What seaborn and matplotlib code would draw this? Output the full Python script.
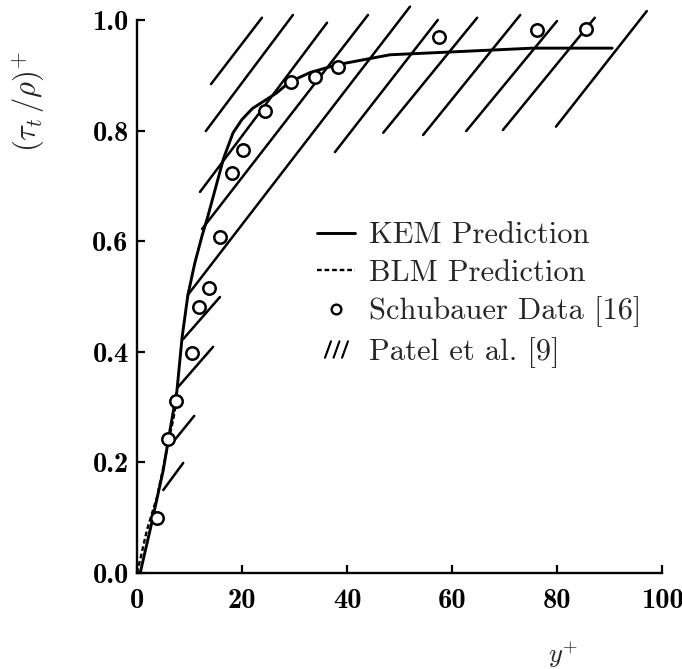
import numpy as np
import pandas as pd
import matplotlib
matplotlib.use("Agg")
import matplotlib.pyplot as plt
import seaborn as sns
from matplotlib.lines import Line2D

# KEM prediction of turbulent shear stress vs wall distance
kem_y_plus = [0.0, 0.6, 2.5, 5.0, 6.3, 7.6, 8.6, 9.7, 11.0, 12.4, 13.5, 14.5, 15.5,
              16.5, 18.3, 20.0, 22.0, 26.6, 29.1, 33.0, 38.1, 48.2, 59.6, 75.4, 90.5]
kem_tau = [0.0, 0.0, 0.078, 0.186, 0.259, 0.329, 0.427, 0.503, 0.56, 0.61, 0.645,
           0.68, 0.715, 0.75, 0.796, 0.82, 0.84, 0.868, 0.888, 0.905, 0.919, 0.937,
           0.942, 0.949, 0.949]

# BLM prediction (near-wall part)
blm_y_plus = [0.0, 0.6, 1.9, 3.8, 5.0, 5.9, 6.9, 7.5]
blm_tau = [0.0, 0.024, 0.078, 0.137, 0.19, 0.235, 0.277, 0.31]

# Schubauer measurements
schub_y_plus = [3.8, 5.9, 7.4, 10.5, 11.8, 13.7, 15.8, 18.1, 20.2, 24.4, 29.3,
                33.9, 38.3, 57.5, 76.2, 85.5]
schub_tau = [0.10, 0.242, 0.311, 0.398, 0.481, 0.515, 0.608, 0.723, 0.765, 0.836,
             0.888, 0.897, 0.915, 0.969, 0.982, 0.984]

# Patel et al. band, drawn as hatch strokes (start / end of each stroke)
patel_x0 = [14.1, 13.1, 12.0, 12.4, 9.7, 37.7, 46.9, 54.5, 62.7, 69.7, 79.8,
            5.0, 6.7, 7.8, 8.8]
patel_y0 = [0.884, 0.799, 0.689, 0.622, 0.503, 0.761, 0.796, 0.792, 0.799, 0.801,
            0.807, 0.150, 0.235, 0.336, 0.423]
patel_x1 = [23.8, 29.7, 36.2, 44.0, 52.0, 57.3, 64.8, 73.0, 80.0, 87.2, 97.1,
            8.8, 10.9, 14.5, 15.8]
patel_y1 = [1.004, 1.009, 0.995, 1.009, 1.024, 1.0, 1.004, 1.009, 0.998, 1.004,
            1.016, 0.199, 0.284, 0.409, 0.499]

x_ticks = [0, 20, 40, 60, 80, 100]
x_tick_labels = ["0", "20", "40", "60", "80", "100"]
y_ticks = [0.0, 0.2, 0.4, 0.6, 0.8, 1.0]
y_tick_labels = ["0.0", "0.2", "0.4", "0.6", "0.8", "1.0"]

sns.set_theme(style="ticks")
plt.rcParams["mathtext.fontset"] = "cm"
plt.rcParams["font.family"] = ["cmr10", "DejaVu Serif"]
plt.rcParams["axes.formatter.use_mathtext"] = True

fig = plt.figure(figsize=(6.82, 6.69), dpi=100)
ax = fig.add_axes([137 / 682, 1 - 573 / 669, 525 / 682, 568 / 669])
ax.set_facecolor("white")
fig.patch.set_facecolor("white")

hatch = pd.DataFrame({
    "seg": np.repeat(np.arange(len(patel_x0)), 2),
    "x": np.ravel(np.column_stack([patel_x0, patel_x1])),
    "y": np.ravel(np.column_stack([patel_y0, patel_y1])),
})
sns.lineplot(data=hatch, x="x", y="y", units="seg", estimator=None, sort=False,
             color="black", lw=1.8, ax=ax, legend=False, solid_capstyle="round")

sns.lineplot(x=kem_y_plus, y=kem_tau, sort=False, estimator=None, color="black",
             lw=2.1, ax=ax)
sns.lineplot(x=blm_y_plus, y=blm_tau, sort=False, estimator=None, color="black",
             lw=1.7, ax=ax, linestyle=(0, (2, 1.2)))
sns.scatterplot(x=schub_y_plus, y=schub_tau, marker="o", s=80, facecolor="white",
                edgecolor="black", linewidth=1.8, ax=ax, zorder=5)

ax.set_xlim(0, 100)
ax.set_ylim(0, 1.027)
for side in ("top", "right"):
    ax.spines[side].set_visible(False)
ax.spines["left"].set_bounds(0, 1.0)
ax.spines["bottom"].set_bounds(0, 100)
for side in ("left", "bottom"):
    ax.spines[side].set_linewidth(1.7)
    ax.spines[side].set_color("black")

ax.set_xticks(x_ticks)
ax.set_xticklabels(x_tick_labels, fontfamily="cmb10", fontsize=20.5)
ax.set_yticks(y_ticks)
ax.set_yticklabels(y_tick_labels, fontfamily="cmb10", fontsize=20.5)
ax.tick_params(axis="both", direction="in", length=6, width=1.6, colors="black")
ax.tick_params(axis="y", pad=6)
ax.tick_params(axis="x", pad=11)

ax.set_xlabel(r"$y^{+}$", fontsize=19)
ax.xaxis.set_label_coords(0.811, -0.118)
ax.set_ylabel(r"$(\tau_t\,/\rho)^{+}$", fontsize=22)
ax.yaxis.set_label_coords(-0.172, 0.83)

handles = [
    Line2D([], [], color="black", lw=2.1),
    Line2D([], [], color="black", lw=1.7, linestyle=(0, (2, 1.2))),
    Line2D([], [], ls="none", marker="o", ms=7, mfc="white", mec="black", mew=1.7),
    Line2D([], [], ls="none", marker=r"$///$", ms=17, color="black"),
]
labels = ["KEM Prediction", "BLM Prediction", "Schubauer Data [16]", "Patel et al. [9]"]
ax.legend(handles, labels, loc="upper left", bbox_to_anchor=(317 / 682, 1 - 222 / 669),
          bbox_transform=fig.transFigure, frameon=False, prop={"family": "cmr10", "size": 22},
          handlelength=1.25, handletextpad=0.45, labelspacing=0.32, borderpad=0,
          borderaxespad=0)

fig.savefig("out.png", dpi=100, facecolor="white")
